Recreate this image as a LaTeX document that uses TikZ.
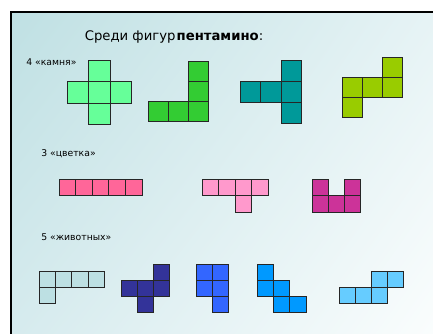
\documentclass[tikz,border=0pt]{standalone}
\usepackage{fontspec}
\setmainfont{DejaVu Sans}
\usepackage{xcolor}
\usetikzlibrary{positioning,shadings}

\definecolor{stoneA}{HTML}{66FF99}
\definecolor{stoneB}{HTML}{33CC33}
\definecolor{stoneC}{HTML}{009999}
\definecolor{stoneD}{HTML}{99CC00}
\definecolor{flowerA}{HTML}{FF6699}
\definecolor{flowerB}{HTML}{FF99CC}
\definecolor{flowerC}{HTML}{CC3399}
\definecolor{animalA}{HTML}{BDE0E3}
\definecolor{animalB}{HTML}{333399}
\definecolor{animalC}{HTML}{3366FF}
\definecolor{animalD}{HTML}{0099FF}
\definecolor{animalE}{HTML}{66CCFF}
\definecolor{bgTL}{HTML}{BFE0E3}
\definecolor{bgTR}{HTML}{E6F3F5}
\definecolor{bgBL}{HTML}{D6EBEE}
\definecolor{bgBR}{HTML}{FAFDFD}

\tikzset{
    cell/.style={draw=black!85, line width=0.6pt},
    grouplabel/.style={anchor=west, font=\fontsize{6.6}{8}\selectfont, inner sep=0pt}
}

\begin{document}
\begin{tikzpicture}[x=0.025cm, y=-0.025cm]
\useasboundingbox (0,0) rectangle (433,334);
% Slide background
\fill[white] (0,0) rectangle (433,334);
\shade[upper left=bgTL, upper right=bgTR, lower left=bgBL, lower right=bgBR] (11,12) rectangle (433,334);
\draw[line width=1.4pt] (10,12) -- (433,12);
\draw[line width=1.4pt] (11,12) -- (11,334);

% Title and group labels
\node[font=\fontsize{9.4}{11}\selectfont] (title) at (174,37) {Среди фигур\kern0.8pt\textbf{пентамино}:};
\node[grouplabel] (stones) at (26,62) {4 «камня»};
\node[grouplabel] (flowers) at (41,154) {3 «цветка»};
\node[grouplabel] (animals) at (41,237) {5 «животных»};

% Stones
\foreach \cx/\cy in {1/0, 0/1, 1/1, 2/1, 1/2}
    \draw[cell, fill=stoneA] (67+\cx*21.5, 60+\cy*21.5) rectangle ++(21.5,21.5);
\foreach \cx/\cy in {2/0, 2/1, 0/2, 1/2, 2/2}
    \draw[cell, fill=stoneB] (148+\cx*20, 61+\cy*20.3) rectangle ++(20,20.3);
\foreach \cx/\cy in {2/0, 0/1, 1/1, 2/1, 2/2}
    \draw[cell, fill=stoneC] (240+\cx*20.5, 60+\cy*21) rectangle ++(20.5,21);
\foreach \cx/\cy in {2/0, 0/1, 1/1, 2/1, 0/2}
    \draw[cell, fill=stoneD] (342+\cx*20, 57+\cy*20) rectangle ++(20,20);

% Flowers
\foreach \cx/\cy in {0/0, 1/0, 2/0, 3/0, 4/0}
    \draw[cell, fill=flowerA] (59+\cx*16.6, 179+\cy*16.5) rectangle ++(16.6,16.5);
\foreach \cx/\cy in {0/0, 1/0, 2/0, 3/0, 2/1}
    \draw[cell, fill=flowerB] (202+\cx*16.5, 179+\cy*16.5) rectangle ++(16.5,16.5);
\foreach \cx/\cy in {0/0, 2/0, 0/1, 1/1, 2/1}
    \draw[cell, fill=flowerC] (312+\cx*16, 179+\cy*16.5) rectangle ++(16,16.5);

% Animals
\foreach \cx/\cy in {0/0, 1/0, 2/0, 3/0, 0/1}
    \draw[cell, fill=animalA] (39+\cx*16.4, 271+\cy*16) rectangle ++(16.4,16);
\foreach \cx/\cy in {2/0, 0/1, 1/1, 2/1, 1/2}
    \draw[cell, fill=animalB] (121+\cx*16.3, 264+\cy*16) rectangle ++(16.3,16);
\foreach \cx/\cy in {0/0, 1/0, 0/1, 1/1, 1/2}
    \draw[cell, fill=animalC] (196+\cx*16.2, 264+\cy*16) rectangle ++(16.2,16);
\foreach \cx/\cy in {0/0, 0/1, 1/1, 1/2, 2/2}
    \draw[cell, fill=animalD] (257+\cx*16.4, 264+\cy*16) rectangle ++(16.4,16);
\foreach \cx/\cy in {2/0, 3/0, 0/1, 1/1, 2/1}
    \draw[cell, fill=animalE] (339+\cx*16.2, 271+\cy*16) rectangle ++(16.2,16);

\end{tikzpicture}
\end{document}
